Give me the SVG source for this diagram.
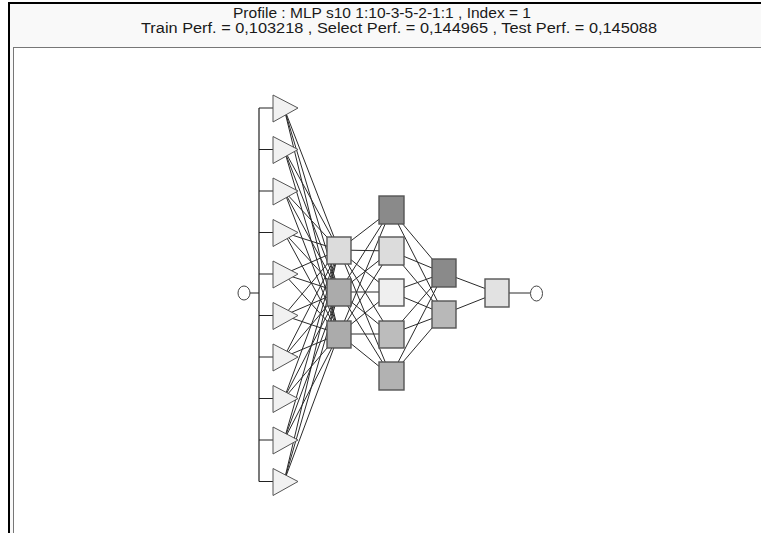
<svg xmlns="http://www.w3.org/2000/svg" width="761" height="533" viewBox="0 0 761 533">
<style>
.t{font-family:"Liberation Sans",Arial,sans-serif;font-size:14px;fill:#1a1a1a}
.c line{stroke:#2a2a2a;stroke-width:1}
.bus{stroke:#222;stroke-width:1.2;fill:none}
.tri{fill:#f1f1f1;stroke:#555;stroke-width:1}
.sq{stroke:#555;stroke-width:1.4}
.io{fill:#fff;stroke:#444;stroke-width:1}
</style>
<rect x="0" y="0" width="761" height="533" fill="#fff"/>
<rect x="9" y="3" width="760" height="540" fill="#f9f9f9" stroke="#000" stroke-width="2"/>
<rect x="13.5" y="47.5" width="760" height="500" fill="#fff" stroke="#777" stroke-width="1"/>
<text class="t" x="233" y="18" textLength="298" lengthAdjust="spacingAndGlyphs">Profile : MLP s10 1:10-3-5-2-1:1 , Index = 1</text>
<text class="t" x="141" y="33" textLength="516" lengthAdjust="spacingAndGlyphs">Train Perf. = 0,103218 , Select Perf. = 0,144965 , Test Perf. = 0,145088</text>
<g id="connectors" class="c">
<g id="in-h1">
<line x1="284" y1="108" x2="339" y2="250"/><line x1="284" y1="108" x2="339" y2="292"/><line x1="284" y1="108" x2="339" y2="334"/>
<line x1="284" y1="149.5" x2="339" y2="250"/><line x1="284" y1="149.5" x2="339" y2="292"/><line x1="284" y1="149.5" x2="339" y2="334"/>
<line x1="284" y1="191" x2="339" y2="250"/><line x1="284" y1="191" x2="339" y2="292"/><line x1="284" y1="191" x2="339" y2="334"/>
<line x1="284" y1="232.5" x2="339" y2="250"/><line x1="284" y1="232.5" x2="339" y2="292"/><line x1="284" y1="232.5" x2="339" y2="334"/>
<line x1="284" y1="274" x2="339" y2="250"/><line x1="284" y1="274" x2="339" y2="292"/><line x1="284" y1="274" x2="339" y2="334"/>
<line x1="284" y1="315.5" x2="339" y2="250"/><line x1="284" y1="315.5" x2="339" y2="292"/><line x1="284" y1="315.5" x2="339" y2="334"/>
<line x1="284" y1="357" x2="339" y2="250"/><line x1="284" y1="357" x2="339" y2="292"/><line x1="284" y1="357" x2="339" y2="334"/>
<line x1="284" y1="398.5" x2="339" y2="250"/><line x1="284" y1="398.5" x2="339" y2="292"/><line x1="284" y1="398.5" x2="339" y2="334"/>
<line x1="284" y1="440" x2="339" y2="250"/><line x1="284" y1="440" x2="339" y2="292"/><line x1="284" y1="440" x2="339" y2="334"/>
<line x1="284" y1="481.5" x2="339" y2="250"/><line x1="284" y1="481.5" x2="339" y2="292"/><line x1="284" y1="481.5" x2="339" y2="334"/>
</g>
<g id="h1-h2">
<line x1="339" y1="250" x2="391" y2="210"/><line x1="339" y1="250" x2="391" y2="251"/><line x1="339" y1="250" x2="391" y2="292"/><line x1="339" y1="250" x2="391" y2="334"/><line x1="339" y1="250" x2="391" y2="376"/>
<line x1="339" y1="292" x2="391" y2="210"/><line x1="339" y1="292" x2="391" y2="251"/><line x1="339" y1="292" x2="391" y2="292"/><line x1="339" y1="292" x2="391" y2="334"/><line x1="339" y1="292" x2="391" y2="376"/>
<line x1="339" y1="334" x2="391" y2="210"/><line x1="339" y1="334" x2="391" y2="251"/><line x1="339" y1="334" x2="391" y2="292"/><line x1="339" y1="334" x2="391" y2="334"/><line x1="339" y1="334" x2="391" y2="376"/>
</g>
<g id="h2-h3">
<line x1="391" y1="210" x2="444" y2="273"/><line x1="391" y1="210" x2="444" y2="314"/>
<line x1="391" y1="251" x2="444" y2="273"/><line x1="391" y1="251" x2="444" y2="314"/>
<line x1="391" y1="292" x2="444" y2="273"/><line x1="391" y1="292" x2="444" y2="314"/>
<line x1="391" y1="334" x2="444" y2="273"/><line x1="391" y1="334" x2="444" y2="314"/>
<line x1="391" y1="376" x2="444" y2="273"/><line x1="391" y1="376" x2="444" y2="314"/>
</g>
<g id="h3-out">
<line x1="444" y1="273" x2="497" y2="293"/><line x1="444" y1="314" x2="497" y2="293"/>
<line x1="497" y1="293" x2="530" y2="293"/>
</g>
<g id="in-bus">
<path class="bus" d="M250,293H259M259,108V481.5M259,108H273M259,149.5H273M259,191H273M259,232.5H273M259,274H273M259,315.5H273M259,357H273M259,398.5H273M259,440H273M259,481.5H273"/>
</g>
</g>
<g id="input-circle"><ellipse class="io" cx="244" cy="293" rx="6" ry="7"/></g>
<g id="inputs">
<g id="in1"><polygon class="tri" points="273,95 273,122 298,108"/></g>
<g id="in2"><polygon class="tri" points="273,136.5 273,163.5 298,149.5"/></g>
<g id="in3"><polygon class="tri" points="273,178 273,205 298,191"/></g>
<g id="in4"><polygon class="tri" points="273,219.5 273,246.5 298,232.5"/></g>
<g id="in5"><polygon class="tri" points="273,261 273,288 298,274"/></g>
<g id="in6"><polygon class="tri" points="273,302.5 273,329.5 298,315.5"/></g>
<g id="in7"><polygon class="tri" points="273,344 273,371 298,357"/></g>
<g id="in8"><polygon class="tri" points="273,385.5 273,412.5 298,398.5"/></g>
<g id="in9"><polygon class="tri" points="273,427 273,454 298,440"/></g>
<g id="in10"><polygon class="tri" points="273,468.5 273,495.5 298,481.5"/></g>
</g>
<g id="h1a"><rect class="sq" x="327" y="237" width="24" height="27" fill="#dcdcdc"/></g>
<g id="h1b"><rect class="sq" x="327" y="279" width="24" height="27" fill="#ababab"/></g>
<g id="h1c"><rect class="sq" x="327" y="321" width="24" height="27" fill="#ababab"/></g>
<g id="h2a"><rect class="sq" x="379" y="196" width="25" height="28" fill="#8a8a8a"/></g>
<g id="h2b"><rect class="sq" x="379" y="237" width="25" height="28" fill="#dcdcdc"/></g>
<g id="h2c"><rect class="sq" x="379" y="279" width="25" height="27" fill="#efefef"/></g>
<g id="h2d"><rect class="sq" x="379" y="321" width="25" height="27" fill="#bcbcbc"/></g>
<g id="h2e"><rect class="sq" x="379" y="362" width="25" height="28" fill="#b2b2b2"/></g>
<g id="h3a"><rect class="sq" x="432" y="259" width="24" height="28" fill="#8a8a8a"/></g>
<g id="h3b"><rect class="sq" x="432" y="301" width="24" height="27" fill="#b8b8b8"/></g>
<g id="out"><rect class="sq" x="485" y="279" width="24" height="28" fill="#e2e2e2"/></g>
<g id="output-circle"><ellipse class="io" cx="536.5" cy="293.5" rx="6" ry="7.5"/></g>
</svg>
